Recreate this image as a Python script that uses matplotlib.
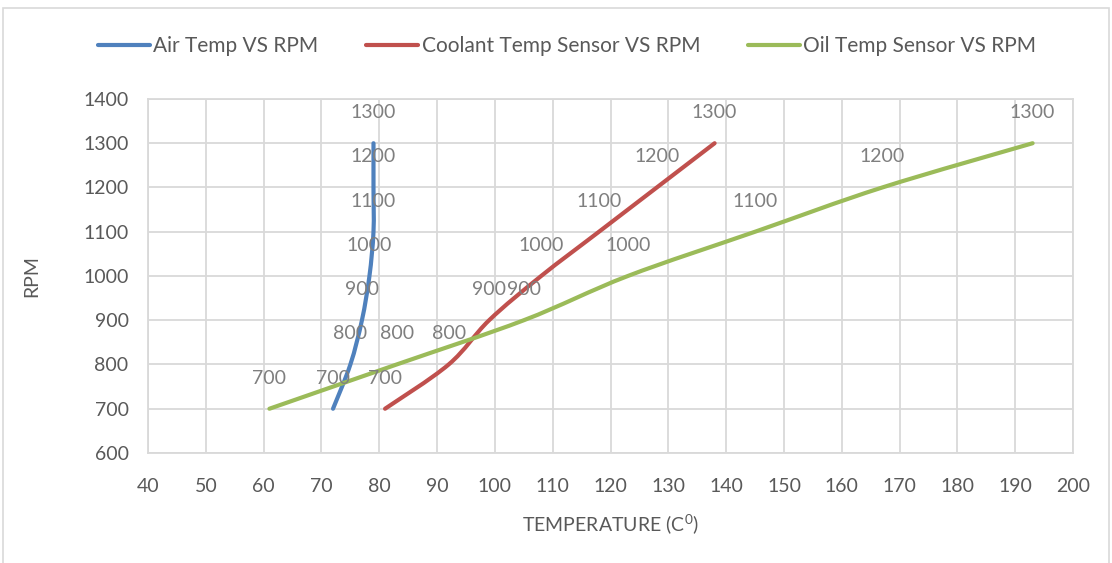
import matplotlib
matplotlib.use("Agg")
import matplotlib.pyplot as plt
from matplotlib.path import Path
from matplotlib.patches import PathPatch, Rectangle
from matplotlib.lines import Line2D

plt.rcParams['font.family'] = ['Lato', 'DejaVu Sans']
plt.rcParams['mathtext.default'] = 'regular'

# datos
rpm = [700, 800, 900, 1000, 1100, 1200, 1300]
air_temp = [72, 75, 77, 78.3, 79, 79, 79]
coolant_temp = [81, 92, 99, 108, 118, 128, 138]
oil_temp = [61, 83, 105, 123, 145, 167, 193]

series = [
    ("Air Temp VS RPM", air_temp, "#4F81BD"),
    ("Coolant Temp Sensor VS RPM", coolant_temp, "#C0504D"),
    ("Oil Temp Sensor VS RPM", oil_temp, "#9BBB59"),
]


def smooth_path(xs, ys):
    """curva suavizada tipo Excel (bezier catmull-rom) que pasa por los puntos"""
    pts = list(zip(xs, ys))
    n = len(pts)
    verts = [pts[0]]
    codes = [Path.MOVETO]
    for i in range(n - 1):
        p0 = pts[i - 1] if i > 0 else pts[i]
        p1 = pts[i]
        p2 = pts[i + 1]
        p3 = pts[i + 2] if i + 2 < n else pts[i + 1]
        c1 = (p1[0] + (p2[0] - p0[0]) / 6, p1[1] + (p2[1] - p0[1]) / 6)
        c2 = (p2[0] - (p3[0] - p1[0]) / 6, p2[1] - (p3[1] - p1[1]) / 6)
        verts += [c1, c2, p2]
        codes += [Path.CURVE4] * 3
    return Path(verts, codes)


fig = plt.figure(figsize=(11.12, 5.63), dpi=100)
ax = fig.add_axes([0.1331, 0.1954, 0.8319, 0.6288])

grid_col = "#D9D9D9"
text_col = "#595959"
label_col = "#7F7F7F"

handles = []
for name, temps, col in series:
    patch = PathPatch(smooth_path(temps, rpm), facecolor="none", edgecolor=col,
                      lw=3.0, capstyle="round", joinstyle="round", zorder=3)
    ax.add_patch(patch)
    for t, r in zip(temps, rpm):
        ax.annotate(str(r), (t, r), xytext=(0, 22), textcoords="offset points",
                    ha="center", va="center", fontsize=14, color=label_col, zorder=4)
    handles.append(Line2D([], [], color=col, lw=3.0, solid_capstyle="round"))

ax.set_xlim(40, 200)
ax.set_ylim(600, 1400)
ax.set_xticks(range(40, 201, 10))
ax.set_yticks(range(600, 1401, 100))
ax.grid(True, color=grid_col, lw=1.3)
ax.set_axisbelow(True)
for s in ax.spines.values():
    s.set_color(grid_col)
    s.set_linewidth(1.3)
ax.tick_params(length=0, labelsize=14, labelcolor=text_col)
ax.tick_params(axis="x", pad=18)
ax.tick_params(axis="y", pad=14)

ax.set_xlabel("TEMPERATURE (C$^{0}$)", fontsize=14, color=text_col, labelpad=12)
ax.set_ylabel("RPM", fontsize=14, color=text_col)
ax.yaxis.set_label_coords(-0.117, 0.5)

fig.legend(handles, [s[0] for s in series], loc="center", bbox_to_anchor=(0.51, 0.918),
           ncol=3, frameon=False, fontsize=15, handlelength=2.5, handletextpad=0.15,
           columnspacing=2.3, labelcolor=text_col)

# borde del grafico
fig.patches.append(Rectangle((3 / 1112, -0.01), 1106 / 1112, 1 - 8 / 563 + 0.01,
                             transform=fig.transFigure, fill=False,
                             edgecolor=grid_col, lw=1.2))

fig.savefig("out.png", dpi=100)
